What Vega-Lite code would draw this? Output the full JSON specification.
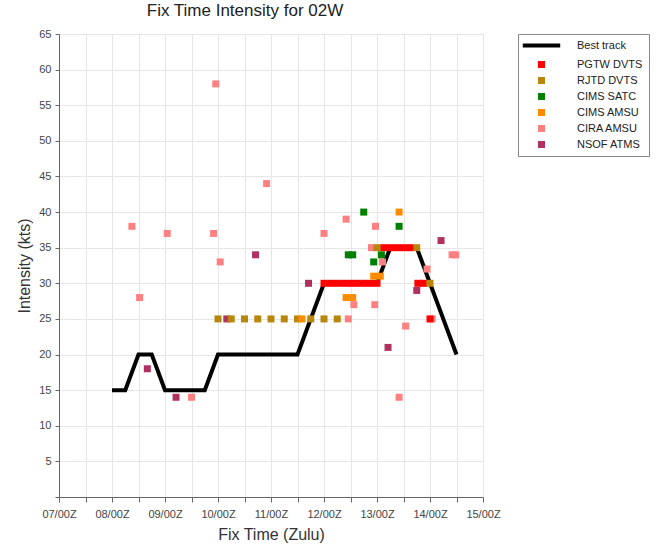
{
  "$schema": "https://vega.github.io/schema/vega-lite/v6.json",
  "autosize": {"type": "none"},
  "width": 424,
  "height": 463,
  "padding": {"left": 59, "top": 34, "right": 177, "bottom": 51},
  "background": "white",
  "config": {
    "font": "Liberation Sans",
    "view": {"stroke": "#e6e6e6"}
  },
  "title": {"text": "Fix Time Intensity for 02W", "fontSize": 17, "fontWeight": "normal", "color": "#222", "anchor": "middle", "dx": -26, "offset": 8},
  "data": {"values": [
    {"t": "2024-06-08T00:00:00Z", "kts": 15, "src": "Best track"},
    {"t": "2024-06-08T06:00:00Z", "kts": 15, "src": "Best track"},
    {"t": "2024-06-08T12:00:00Z", "kts": 20, "src": "Best track"},
    {"t": "2024-06-08T18:00:00Z", "kts": 20, "src": "Best track"},
    {"t": "2024-06-09T00:00:00Z", "kts": 15, "src": "Best track"},
    {"t": "2024-06-09T06:00:00Z", "kts": 15, "src": "Best track"},
    {"t": "2024-06-09T12:00:00Z", "kts": 15, "src": "Best track"},
    {"t": "2024-06-09T18:00:00Z", "kts": 15, "src": "Best track"},
    {"t": "2024-06-10T00:00:00Z", "kts": 20, "src": "Best track"},
    {"t": "2024-06-10T06:00:00Z", "kts": 20, "src": "Best track"},
    {"t": "2024-06-10T12:00:00Z", "kts": 20, "src": "Best track"},
    {"t": "2024-06-10T18:00:00Z", "kts": 20, "src": "Best track"},
    {"t": "2024-06-11T00:00:00Z", "kts": 20, "src": "Best track"},
    {"t": "2024-06-11T06:00:00Z", "kts": 20, "src": "Best track"},
    {"t": "2024-06-11T12:00:00Z", "kts": 20, "src": "Best track"},
    {"t": "2024-06-11T18:00:00Z", "kts": 25, "src": "Best track"},
    {"t": "2024-06-12T00:00:00Z", "kts": 30, "src": "Best track"},
    {"t": "2024-06-12T06:00:00Z", "kts": 30, "src": "Best track"},
    {"t": "2024-06-12T12:00:00Z", "kts": 30, "src": "Best track"},
    {"t": "2024-06-12T18:00:00Z", "kts": 30, "src": "Best track"},
    {"t": "2024-06-13T00:00:00Z", "kts": 30, "src": "Best track"},
    {"t": "2024-06-13T06:00:00Z", "kts": 35, "src": "Best track"},
    {"t": "2024-06-13T12:00:00Z", "kts": 35, "src": "Best track"},
    {"t": "2024-06-13T18:00:00Z", "kts": 35, "src": "Best track"},
    {"t": "2024-06-14T00:00:00Z", "kts": 30, "src": "Best track"},
    {"t": "2024-06-14T06:00:00Z", "kts": 25, "src": "Best track"},
    {"t": "2024-06-14T12:00:00Z", "kts": 20, "src": "Best track"},

    {"t": "2024-06-08T16:00:00Z", "kts": 18, "src": "NSOF ATMS"},
    {"t": "2024-06-09T05:00:00Z", "kts": 14, "src": "NSOF ATMS"},
    {"t": "2024-06-10T04:00:00Z", "kts": 25, "src": "NSOF ATMS"},
    {"t": "2024-06-10T17:00:00Z", "kts": 34, "src": "NSOF ATMS"},
    {"t": "2024-06-11T17:00:00Z", "kts": 30, "src": "NSOF ATMS"},
    {"t": "2024-06-13T05:00:00Z", "kts": 21, "src": "NSOF ATMS"},
    {"t": "2024-06-13T18:00:00Z", "kts": 29, "src": "NSOF ATMS"},
    {"t": "2024-06-14T05:00:00Z", "kts": 36, "src": "NSOF ATMS"},

    {"t": "2024-06-08T09:00:00Z", "kts": 38, "src": "CIRA AMSU"},
    {"t": "2024-06-08T12:30:00Z", "kts": 28, "src": "CIRA AMSU"},
    {"t": "2024-06-09T01:00:00Z", "kts": 37, "src": "CIRA AMSU"},
    {"t": "2024-06-09T12:00:00Z", "kts": 14, "src": "CIRA AMSU"},
    {"t": "2024-06-09T22:00:00Z", "kts": 37, "src": "CIRA AMSU"},
    {"t": "2024-06-09T23:00:00Z", "kts": 58, "src": "CIRA AMSU"},
    {"t": "2024-06-10T01:00:00Z", "kts": 33, "src": "CIRA AMSU"},
    {"t": "2024-06-10T22:00:00Z", "kts": 44, "src": "CIRA AMSU"},
    {"t": "2024-06-12T00:00:00Z", "kts": 37, "src": "CIRA AMSU"},
    {"t": "2024-06-12T10:00:00Z", "kts": 39, "src": "CIRA AMSU"},
    {"t": "2024-06-12T11:00:00Z", "kts": 25, "src": "CIRA AMSU"},
    {"t": "2024-06-12T13:30:00Z", "kts": 27, "src": "CIRA AMSU"},
    {"t": "2024-06-12T21:30:00Z", "kts": 35, "src": "CIRA AMSU"},
    {"t": "2024-06-12T23:00:00Z", "kts": 27, "src": "CIRA AMSU"},
    {"t": "2024-06-12T23:20:00Z", "kts": 38, "src": "CIRA AMSU"},
    {"t": "2024-06-13T02:30:00Z", "kts": 33, "src": "CIRA AMSU"},
    {"t": "2024-06-13T10:00:00Z", "kts": 14, "src": "CIRA AMSU"},
    {"t": "2024-06-13T13:00:00Z", "kts": 24, "src": "CIRA AMSU"},
    {"t": "2024-06-13T22:40:00Z", "kts": 32, "src": "CIRA AMSU"},
    {"t": "2024-06-14T01:00:00Z", "kts": 25, "src": "CIRA AMSU"},
    {"t": "2024-06-14T10:00:00Z", "kts": 34, "src": "CIRA AMSU"},
    {"t": "2024-06-14T11:40:00Z", "kts": 34, "src": "CIRA AMSU"},

    {"t": "2024-06-12T00:00:00Z", "kts": 30, "src": "PGTW DVTS"},
    {"t": "2024-06-12T03:00:00Z", "kts": 30, "src": "PGTW DVTS"},
    {"t": "2024-06-12T06:00:00Z", "kts": 30, "src": "PGTW DVTS"},
    {"t": "2024-06-12T09:00:00Z", "kts": 30, "src": "PGTW DVTS"},
    {"t": "2024-06-12T12:00:00Z", "kts": 30, "src": "PGTW DVTS"},
    {"t": "2024-06-12T15:00:00Z", "kts": 30, "src": "PGTW DVTS"},
    {"t": "2024-06-12T18:00:00Z", "kts": 30, "src": "PGTW DVTS"},
    {"t": "2024-06-12T21:00:00Z", "kts": 30, "src": "PGTW DVTS"},
    {"t": "2024-06-13T00:00:00Z", "kts": 30, "src": "PGTW DVTS"},
    {"t": "2024-06-13T03:00:00Z", "kts": 35, "src": "PGTW DVTS"},
    {"t": "2024-06-13T06:00:00Z", "kts": 35, "src": "PGTW DVTS"},
    {"t": "2024-06-13T09:00:00Z", "kts": 35, "src": "PGTW DVTS"},
    {"t": "2024-06-13T12:00:00Z", "kts": 35, "src": "PGTW DVTS"},
    {"t": "2024-06-13T15:00:00Z", "kts": 35, "src": "PGTW DVTS"},
    {"t": "2024-06-13T18:30:00Z", "kts": 30, "src": "PGTW DVTS"},
    {"t": "2024-06-13T21:00:00Z", "kts": 30, "src": "PGTW DVTS"},
    {"t": "2024-06-14T00:00:00Z", "kts": 25, "src": "PGTW DVTS"},

    {"t": "2024-06-10T00:00:00Z", "kts": 25, "src": "RJTD DVTS"},
    {"t": "2024-06-10T06:00:00Z", "kts": 25, "src": "RJTD DVTS"},
    {"t": "2024-06-10T12:00:00Z", "kts": 25, "src": "RJTD DVTS"},
    {"t": "2024-06-10T18:00:00Z", "kts": 25, "src": "RJTD DVTS"},
    {"t": "2024-06-11T00:00:00Z", "kts": 25, "src": "RJTD DVTS"},
    {"t": "2024-06-11T06:00:00Z", "kts": 25, "src": "RJTD DVTS"},
    {"t": "2024-06-11T12:00:00Z", "kts": 25, "src": "RJTD DVTS"},
    {"t": "2024-06-11T18:00:00Z", "kts": 25, "src": "RJTD DVTS"},
    {"t": "2024-06-12T00:00:00Z", "kts": 25, "src": "RJTD DVTS"},
    {"t": "2024-06-12T06:00:00Z", "kts": 25, "src": "RJTD DVTS"},
    {"t": "2024-06-13T00:00:00Z", "kts": 35, "src": "RJTD DVTS"},
    {"t": "2024-06-13T18:00:00Z", "kts": 35, "src": "RJTD DVTS"},
    {"t": "2024-06-14T00:00:00Z", "kts": 30, "src": "RJTD DVTS"},

    {"t": "2024-06-12T11:00:00Z", "kts": 34, "src": "CIMS SATC"},
    {"t": "2024-06-12T13:00:00Z", "kts": 34, "src": "CIMS SATC"},
    {"t": "2024-06-12T18:00:00Z", "kts": 40, "src": "CIMS SATC"},
    {"t": "2024-06-12T22:30:00Z", "kts": 33, "src": "CIMS SATC"},
    {"t": "2024-06-13T02:00:00Z", "kts": 34, "src": "CIMS SATC"},
    {"t": "2024-06-13T10:00:00Z", "kts": 38, "src": "CIMS SATC"},

    {"t": "2024-06-11T14:00:00Z", "kts": 25, "src": "CIMS AMSU"},
    {"t": "2024-06-12T10:00:00Z", "kts": 28, "src": "CIMS AMSU"},
    {"t": "2024-06-12T13:00:00Z", "kts": 28, "src": "CIMS AMSU"},
    {"t": "2024-06-12T22:30:00Z", "kts": 31, "src": "CIMS AMSU"},
    {"t": "2024-06-13T01:30:00Z", "kts": 31, "src": "CIMS AMSU"},
    {"t": "2024-06-13T10:00:00Z", "kts": 40, "src": "CIMS AMSU"}
  ]},
  "encoding": {
    "x": {
      "field": "t", "type": "temporal",
      "scale": {"type": "utc", "domain": [{"year": 2024, "month": 6, "date": 7, "hours": 0, "utc": true}, {"year": 2024, "month": 6, "date": 15, "hours": 0, "utc": true}]},
      "axis": {
        "title": "Fix Time (Zulu)",
        "values": [
          {"year": 2024, "month": 6, "date": 7, "hours": 0, "utc": true},
          {"year": 2024, "month": 6, "date": 7, "hours": 12, "utc": true},
          {"year": 2024, "month": 6, "date": 8, "hours": 0, "utc": true},
          {"year": 2024, "month": 6, "date": 8, "hours": 12, "utc": true},
          {"year": 2024, "month": 6, "date": 9, "hours": 0, "utc": true},
          {"year": 2024, "month": 6, "date": 9, "hours": 12, "utc": true},
          {"year": 2024, "month": 6, "date": 10, "hours": 0, "utc": true},
          {"year": 2024, "month": 6, "date": 10, "hours": 12, "utc": true},
          {"year": 2024, "month": 6, "date": 11, "hours": 0, "utc": true},
          {"year": 2024, "month": 6, "date": 11, "hours": 12, "utc": true},
          {"year": 2024, "month": 6, "date": 12, "hours": 0, "utc": true},
          {"year": 2024, "month": 6, "date": 12, "hours": 12, "utc": true},
          {"year": 2024, "month": 6, "date": 13, "hours": 0, "utc": true},
          {"year": 2024, "month": 6, "date": 13, "hours": 12, "utc": true},
          {"year": 2024, "month": 6, "date": 14, "hours": 0, "utc": true},
          {"year": 2024, "month": 6, "date": 14, "hours": 12, "utc": true},
          {"year": 2024, "month": 6, "date": 15, "hours": 0, "utc": true}
        ],
        "labelExpr": "utcFormat(datum.value, '%H') == '00' ? utcFormat(datum.value, '%d/%HZ') : ''",
        "labelFontSize": 11, "labelColor": "#444", "labelPadding": 6, "labelFlush": false, "labelOverlap": false,
        "titleFontSize": 16, "titleFontWeight": "normal", "titleColor": "#333", "titlePadding": 7,
        "grid": true, "gridColor": "#e6e6e6", "domainColor": "#666", "tickColor": "#666", "tickSize": 5
      }
    },
    "y": {
      "field": "kts", "type": "quantitative",
      "scale": {"domain": [0, 65], "nice": false},
      "axis": {
        "title": "Intensity (kts)",
        "values": [0, 5, 10, 15, 20, 25, 30, 35, 40, 45, 50, 55, 60, 65],
        "labelExpr": "datum.value == 0 ? '' : datum.label",
        "labelFontSize": 11, "labelColor": "#444", "labelPadding": 4,
        "titleFontSize": 16, "titleFontWeight": "normal", "titleColor": "#333", "titlePadding": 6,
        "grid": true, "gridColor": "#e6e6e6", "domainColor": "#666", "tickColor": "#666", "tickSize": 4
      }
    },
    "color": {
      "field": "src", "type": "nominal",
      "scale": {
        "domain": ["Best track", "PGTW DVTS", "RJTD DVTS", "CIMS SATC", "CIMS AMSU", "CIRA AMSU", "NSOF ATMS"],
        "range": ["#000000", "#ff0000", "#b8860b", "#008000", "#ff8c00", "#ff8080", "#b03060"]
      },
      "legend": {
        "title": null,
        "orient": "none", "legendX": 459, "legendY": 0,
        "strokeColor": "#888", "fillColor": "white", "padding": 6,
        "labelFontSize": 11, "labelColor": "#222", "labelOffset": 30,
        "symbolOffset": 12,
        "rowPadding": 4, "symbolSize": 675, "symbolStrokeWidth": 4,
        "encode": {
          "symbols": {"update": {
            "shape": {"signal": "datum.value == 'Best track' ? 'stroke' : 'square'"},
            "size": {"signal": "datum.value == 'Best track' ? 1400 : 49"},
            "strokeWidth": {"signal": "datum.value == 'Best track' ? 4 : 0"},
            "opacity": {"value": 1}
          }}
        }
      }
    }
  },
  "layer": [
    {
      "transform": [{"filter": "datum.src == 'Best track'"}],
      "mark": {"type": "line", "strokeWidth": 4, "strokeJoin": "miter"}
    },
    {
      "transform": [{"filter": "datum.src != 'Best track'"}],
      "mark": {"type": "square", "size": 49, "opacity": 1, "filled": true}
    }
  ]
}
